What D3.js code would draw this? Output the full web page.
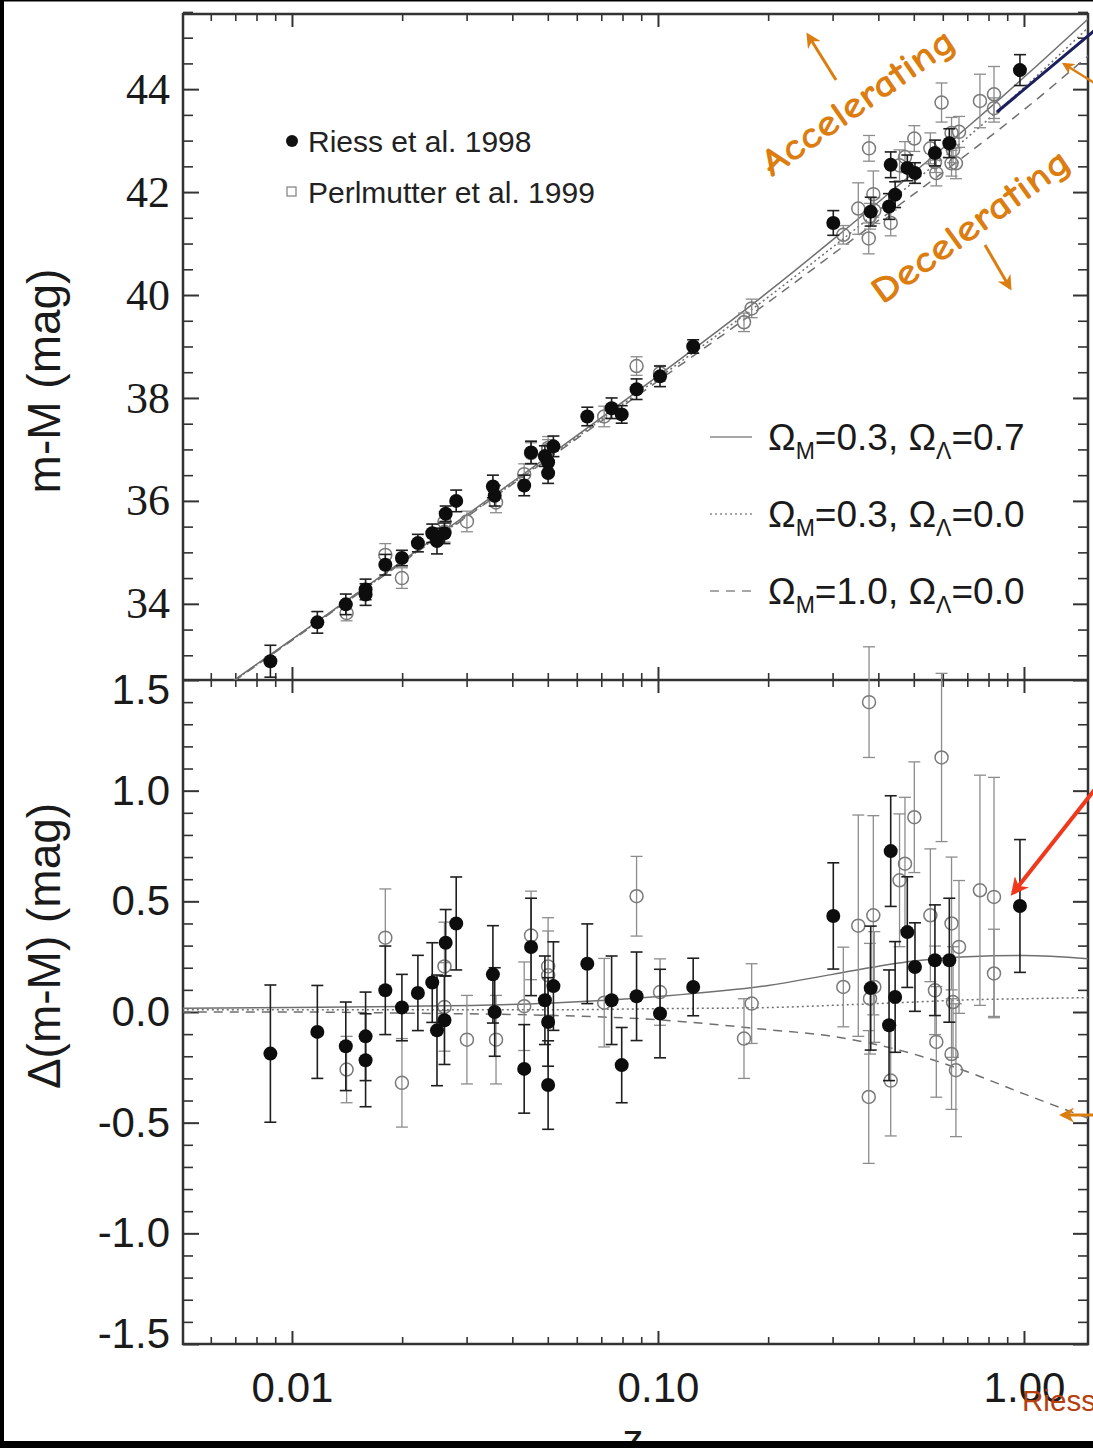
<!DOCTYPE html>
<html>
<head>
<meta charset="utf-8">
<script src="https://cdn.jsdelivr.net/npm/d3@7"></script>
<style>
    body { margin: 0; background: #fff; }
    svg { display: block; }
</style>
</head>
<body>
<svg id="chart" width="1093" height="1448"></svg>
<script>
// Riess et al. 1998 (filled): redshift, distance modulus, residual, error
let riessZ = [0.00873, 0.01173, 0.01403, 0.01589, 0.01589, 0.01799, 0.01997, 0.02208, 0.02417, 0.0263,
    0.0281, 0.0249, 0.0261, 0.0354, 0.0358, 0.0431, 0.0450, 0.0491, 0.0501, 0.0501,
    0.0518, 0.0641, 0.0747, 0.0796, 0.0874, 0.1013, 0.1248,
    0.3013, 0.4324, 0.4800, 0.5037, 0.3813, 0.4446, 0.4279, 0.5711, 0.6252, 0.975];
let riessMM = [32.885, 33.64, 33.99, 34.28, 34.18, 34.76, 34.89, 35.18, 35.37, 35.75,
    36.00, 35.22, 35.37, 36.28, 36.10, 36.30, 36.94, 36.87, 36.75, 36.54,
    37.06, 37.64, 37.80, 37.68, 38.17, 38.42, 39.00,
    41.40, 42.53, 42.47, 42.37, 41.62, 41.95, 41.72, 42.76, 42.95, 44.37];
let riessDM = [-0.188, -0.09, -0.155, -0.11, -0.218, 0.098, 0.02, 0.086, 0.133, 0.313,
    0.40, -0.083, -0.037, 0.17, 0.0, -0.257, 0.294, 0.053, -0.045, -0.33,
    0.117, 0.218, 0.053, -0.24, 0.071, -0.007, 0.113,
    0.434, 0.727, 0.361, 0.203, 0.108, 0.068, -0.06, 0.234, 0.234, 0.479];
let riessErr = [0.31, 0.21, 0.2, 0.2, 0.21, 0.2, 0.15, 0.17, 0.18, 0.15,
    0.21, 0.25, 0.2, 0.22, 0.2, 0.2, 0.22, 0.2, 0.2, 0.2,
    0.2, 0.18, 0.2, 0.17, 0.2, 0.2, 0.13,
    0.24, 0.25, 0.25, 0.2, 0.28, 0.25, 0.25, 0.25, 0.28, 0.3];

// Perlmutter et al. 1999 (open)
let perlZ = [0.01799, 0.0141, 0.01997, 0.0261, 0.0261, 0.03006, 0.0361, 0.045, 0.0431, 0.0501,
    0.0501, 0.0713, 0.0874, 0.1013, 0.1718, 0.1803,
    0.5016, 0.3209, 0.3526, 0.3876, 0.473, 0.4571, 0.5549, 0.634, 0.6645, 0.758,
    0.8281, 0.8281, 0.5711, 0.3796, 0.4324, 0.3766, 0.5761, 0.634, 0.6517, 0.5954,
    0.3773, 0.64, 0.39];
let perlMM = [34.95, 33.82, 34.50, 35.59, 35.40, 35.60, 35.97, 36.93, 36.52, 37.03,
    36.99, 37.64, 38.62, 38.48, 39.47, 39.74,
    43.04, 41.17, 41.68, 41.96, 42.68, 42.52, 42.85, 43.15, 43.17, 43.77,
    43.90, 43.63, 42.58, 41.53, 41.40, 41.10, 42.37, 42.56, 42.56, 43.74,
    42.85, 42.82, 41.64];
let perlDM = [0.336, -0.26, -0.32, 0.206, 0.023, -0.125, -0.125, 0.346, 0.026, 0.206,
    0.166, 0.042, 0.523, 0.09, -0.12, 0.038,
    0.88, 0.113, 0.39, 0.437, 0.67, 0.595, 0.437, 0.40, 0.294, 0.55,
    0.52, 0.174, 0.098, 0.06, -0.31, -0.384, -0.135, -0.19, -0.263, 1.15,
    1.40, 0.045, 0.113];
let perlErr = [0.22, 0.15, 0.2, 0.2, 0.2, 0.2, 0.2, 0.2, 0.2, 0.22,
    0.2, 0.2, 0.18, 0.15, 0.18, 0.18,
    0.25, 0.18, 0.5, 0.45, 0.3, 0.3, 0.3, 0.3, 0.3, 0.52,
    0.54, 0.2, 0.2, 0.25, 0.25, 0.3, 0.25, 0.25, 0.3, 0.38,
    0.25, 0.25, 0.25];

// cosmological model curves
let modelZ = [0.005, 0.01, 0.02, 0.05, 0.1, 0.2, 0.3, 0.5, 0.7, 1.0, 1.5];
let topSolid = [31.80, 33.31, 34.83, 36.86, 38.43, 40.06, 41.07, 42.38, 43.26, 44.23, 45.37];
let topDotted = [31.79, 33.30, 34.81, 36.83, 38.38, 39.96, 40.93, 42.20, 43.06, 44.03, 45.20];
let topDashed = [31.78, 33.29, 34.80, 36.81, 38.33, 39.86, 40.79, 41.96, 42.74, 43.60, 44.65];
let botSolid = [0.017, 0.02, 0.025, 0.04, 0.07, 0.12, 0.17, 0.23, 0.25, 0.255, 0.24];
let botDotted = [0.01, 0.01, 0.01, 0.01, 0.015, 0.02, 0.03, 0.045, 0.055, 0.06, 0.065];
let botDashed = [0, 0, -0.005, -0.015, -0.035, -0.08, -0.11, -0.19, -0.27, -0.37, -0.48];

let xMajor = [0.01, 0.1, 1];
let xMinor = [0.006, 0.007, 0.008, 0.009, 0.02, 0.03, 0.04, 0.05, 0.06, 0.07, 0.08, 0.09,
    0.2, 0.3, 0.4, 0.5, 0.6, 0.7, 0.8, 0.9];
let topMajor = [34, 36, 38, 40, 42, 44];
let botMajor = [-1.5, -1.0, -0.5, 0.0, 0.5, 1.0, 1.5];

let legendModels = [
    {m: "0.3", l: "0.7", dash: null},
    {m: "0.3", l: "0.0", dash: "2,3"},
    {m: "1.0", l: "0.0", dash: "9,7"}
];

let svg = d3.select("#chart");
let pLeft = 183, pRight = 1088, pTop = 14, pMid = 680, pBottom = 1344;
let orange = "#dc7d10";

let x = d3.scaleLog().domain([0.005038, 1.496]).range([pLeft, pRight]);
let yTop = d3.scaleLinear().domain([32.52, 45.46]).range([pMid, pTop]);
let yBot = d3.scaleLinear().domain([-1.5, 1.5]).range([pBottom, pMid]);

svg.append("defs").call(function (defs) {
    defs.append("clipPath").attr("id", "clipTop")
        .append("rect").attr("x", pLeft).attr("y", pTop)
        .attr("width", pRight - pLeft).attr("height", pMid - pTop);
    defs.append("clipPath").attr("id", "clipBot")
        .append("rect").attr("x", pLeft).attr("y", pMid)
        .attr("width", pRight - pLeft).attr("height", pBottom - pMid);
    ["orangeHead", "redHead"].forEach(function (id, i) {
        defs.append("marker").attr("id", id)
            .attr("viewBox", "0 0 10 10").attr("refX", 8).attr("refY", 5)
            .attr("markerWidth", i ? 4.5 : 5).attr("markerHeight", i ? 4.5 : 5)
            .attr("orient", "auto")
            .append("path").attr("d", "M0,0 L10,5 L0,10 L3,5 Z")
            .attr("fill", i ? "#f0381c" : orange);
    });
});

// axes: ticks point into each panel
function styleAxis(g, width) {
    g.select(".domain").remove();
    g.selectAll(".tick line").attr("stroke", "#333").attr("stroke-width", width);
    return g;
}

function xAxes(yPos, maker) {
    styleAxis(svg.append("g").attr("transform", "translate(0," + yPos + ")")
        .call(maker(x).tickValues(xMajor).tickSizeInner(13).tickSizeOuter(0).tickFormat("")), 2);
    styleAxis(svg.append("g").attr("transform", "translate(0," + yPos + ")")
        .call(maker(x).tickValues(xMinor).tickSizeInner(7).tickSizeOuter(0).tickFormat("")), 1.6);
}
xAxes(pTop, d3.axisBottom);
xAxes(pMid, d3.axisTop);
xAxes(pMid, d3.axisBottom);

let bottomAxis = svg.append("g").attr("transform", "translate(0," + pBottom + ")")
    .call(d3.axisBottom(x).tickValues(xMajor).tickSizeInner(-13).tickSizeOuter(0)
        .tickPadding(28).tickFormat(d3.format(".2f")));
styleAxis(bottomAxis, 2);
bottomAxis.selectAll("text")
    .attr("font-family", "Liberation Sans, Arial, sans-serif")
    .attr("font-size", 42).attr("fill", "#1a1a1a");
styleAxis(svg.append("g").attr("transform", "translate(0," + pBottom + ")")
    .call(d3.axisTop(x).tickValues(xMinor).tickSizeInner(7).tickSizeOuter(0).tickFormat("")), 1.6);

function yAxes(scale, majors, minors, labelFormat, font, size) {
    let major = svg.append("g").attr("transform", "translate(" + pLeft + ",0)")
        .call(d3.axisLeft(scale).tickValues(majors).tickSizeInner(-16).tickSizeOuter(0)
            .tickPadding(13).tickFormat(labelFormat));
    styleAxis(major, 2);
    major.selectAll("text").attr("font-family", font).attr("font-size", size).attr("fill", "#1a1a1a");
    styleAxis(svg.append("g").attr("transform", "translate(" + pLeft + ",0)")
        .call(d3.axisLeft(scale).tickValues(minors).tickSizeInner(-10).tickSizeOuter(0).tickFormat("")), 1.6);
    styleAxis(svg.append("g").attr("transform", "translate(" + pRight + ",0)")
        .call(d3.axisRight(scale).tickValues(majors).tickSizeInner(-15).tickSizeOuter(0).tickFormat("")), 2);
    styleAxis(svg.append("g").attr("transform", "translate(" + pRight + ",0)")
        .call(d3.axisRight(scale).tickValues(minors).tickSizeInner(-10).tickSizeOuter(0).tickFormat("")), 1.6);
    return major;
}

let topMinor = d3.range(33, 45.6, 0.5).filter(function (v) { return topMajor.indexOf(v) < 0; });
yAxes(yTop, topMajor, topMinor, function (d) { return d; },
    "Liberation Serif, Times New Roman, serif", 44);

let botMinor = d3.range(-14, 15).map(function (v) { return v / 10; })
    .filter(function (v) { return Math.abs(v * 2 - Math.round(v * 2)) > 0.01; });
let botLabels = yAxes(yBot, botMajor, botMinor, function (d) { return d.toFixed(1); },
    "Liberation Sans, Arial, sans-serif", 42);
botLabels.selectAll(".tick text")
    .attr("dy", function (d) { return d === 1.5 ? "0.55em" : d === -1.5 ? "0.08em" : "0.32em"; });

// frame
svg.append("g").attr("fill", "none").attr("stroke", "#333").attr("stroke-width", 2.5)
    .call(function (g) {
        g.append("rect").attr("x", pLeft).attr("y", pTop)
            .attr("width", pRight - pLeft).attr("height", pBottom - pTop);
        g.append("line").attr("x1", pLeft).attr("x2", pRight).attr("y1", pMid).attr("y2", pMid);
    });

// model curves
function modelLine(scale) {
    return d3.line()
        .x(function (d) { return x(d[0]); })
        .y(function (d) { return scale(d[1]); })
        .curve(d3.curveMonotoneX);
}
[
    [topSolid, yTop, "clipTop", null], [topDotted, yTop, "clipTop", "2,3"], [topDashed, yTop, "clipTop", "9,7"],
    [botSolid, yBot, "clipBot", null], [botDotted, yBot, "clipBot", "2,3"], [botDashed, yBot, "clipBot", "9,7"]
].forEach(function (m) {
    svg.append("path")
        .datum(d3.zip(modelZ, m[0]))
        .attr("clip-path", "url(#" + m[2] + ")")
        .attr("d", modelLine(m[1]))
        .attr("fill", "none")
        .attr("stroke", "#6f6f6f")
        .attr("stroke-width", 1.5)
        .attr("stroke-dasharray", m[3]);
});

// data points
let riess = riessZ.map(function (z, i) {
    return {z: z, mm: riessMM[i], dm: riessDM[i], err: riessErr[i]};
});
let perl = perlZ.map(function (z, i) {
    return {z: z, mm: perlMM[i], dm: perlDM[i], err: perlErr[i]};
});

function errorBars(data, scale, key, color, width) {
    let g = svg.append("g").attr("stroke", color).attr("stroke-width", width);
    data.forEach(function (d) {
        let cx = x(d.z), y1 = scale(d[key] - d.err), y2 = scale(d[key] + d.err);
        g.append("line").attr("x1", cx).attr("x2", cx).attr("y1", y1).attr("y2", y2);
        g.append("line").attr("x1", cx - 6).attr("x2", cx + 6).attr("y1", y1).attr("y2", y1);
        g.append("line").attr("x1", cx - 6).attr("x2", cx + 6).attr("y1", y2).attr("y2", y2);
    });
}

[[yTop, "mm"], [yBot, "dm"]].forEach(function (p) {
    errorBars(perl, p[0], p[1], "#8c8c8c", 1.3);
    svg.append("g").selectAll("circle")
        .data(perl)
        .enter()
        .append("circle")
        .attr("cx", function (d) { return x(d.z); })
        .attr("cy", function (d) { return p[0](d[p[1]]); })
        .attr("r", 6.5)
        .attr("fill", "none")
        .attr("stroke", "#7a7a7a")
        .attr("stroke-width", 1.5);
    errorBars(riess, p[0], p[1], "#1e1e1e", 1.6);
    svg.append("g").selectAll("circle")
        .data(riess)
        .enter()
        .append("circle")
        .attr("cx", function (d) { return x(d.z); })
        .attr("cy", function (d) { return p[0](d[p[1]]); })
        .attr("r", 7)
        .attr("fill", "#0d0d0d");
});

// legends
let sans = "Liberation Sans, Arial, sans-serif";
svg.append("circle").attr("cx", 292).attr("cy", 141).attr("r", 6).attr("fill", "#111");
svg.append("rect").attr("x", 287).attr("y", 187).attr("width", 9).attr("height", 9)
    .attr("fill", "none").attr("stroke", "#888").attr("stroke-width", 1.3);
svg.append("text").attr("x", 308).attr("y", 152).attr("font-family", sans)
    .attr("font-size", 30).attr("fill", "#222").text("Riess et al. 1998");
svg.append("text").attr("x", 308).attr("y", 203).attr("font-family", sans)
    .attr("font-size", 30).attr("fill", "#222").text("Perlmutter et al. 1999");

legendModels.forEach(function (m, i) {
    let ly = 437 + i * 77;
    svg.append("line").attr("x1", 710).attr("x2", 752).attr("y1", ly).attr("y2", ly)
        .attr("stroke", "#8a8a8a").attr("stroke-width", 1.6).attr("stroke-dasharray", m.dash);
    let t = svg.append("text").attr("x", 768).attr("y", ly + 13)
        .attr("font-family", sans).attr("font-size", 37).attr("fill", "#1a1a1a");
    t.append("tspan").text("\u03A9");
    t.append("tspan").attr("dy", 9).attr("font-size", 23).text("M");
    t.append("tspan").attr("dy", -9).text("=" + m.m + ", \u03A9");
    t.append("tspan").attr("dy", 9).attr("font-size", 23).text("\u039B");
    t.append("tspan").attr("dy", -9).text("=" + m.l);
});

// axis titles
svg.append("text").attr("transform", "translate(60,381) rotate(-90)")
    .attr("text-anchor", "middle").attr("font-family", sans).attr("font-size", 46)
    .attr("fill", "#1a1a1a").text("m-M (mag)");
svg.append("text").attr("transform", "translate(60,946) rotate(-90)")
    .attr("text-anchor", "middle").attr("font-family", sans).attr("font-size", 46)
    .attr("fill", "#1a1a1a").text("\u0394(m-M) (mag)");
svg.append("text").attr("x", 633).attr("y", 1454).attr("text-anchor", "middle")
    .attr("font-family", sans).attr("font-size", 42).attr("fill", "#1a1a1a").text("z");

// annotations drawn over the figure
let hand = "Comic Sans MS, Comic Neue, DejaVu Sans, sans-serif";
svg.append("text").attr("transform", "translate(865,112) rotate(-35)")
    .attr("text-anchor", "middle").attr("font-family", hand).attr("font-weight", "bold")
    .attr("font-size", 38).attr("fill", orange)
    .attr("textLength", 228).attr("lengthAdjust", "spacingAndGlyphs").text("Accelerating");
svg.append("text").attr("transform", "translate(978,236) rotate(-36)")
    .attr("text-anchor", "middle").attr("font-family", hand).attr("font-weight", "bold")
    .attr("font-size", 38).attr("fill", orange)
    .attr("textLength", 236).attr("lengthAdjust", "spacingAndGlyphs").text("Decelerating");

let arrows = [
    [836, 80, 808, 35, orange, 3, "orangeHead"],
    [985, 245, 1010, 288, orange, 3, "orangeHead"],
    [1096, 84, 1064, 64, orange, 2.5, "orangeHead"],
    [1096, 1115, 1062, 1115, orange, 3, "orangeHead"],
    [1096, 788, 1013, 893, "#f0381c", 4, "redHead"]
];
arrows.forEach(function (a) {
    svg.append("line").attr("x1", a[0]).attr("y1", a[1]).attr("x2", a[2]).attr("y2", a[3])
        .attr("stroke", a[4]).attr("stroke-width", a[5])
        .attr("marker-end", "url(#" + a[6] + ")");
});
svg.append("line").attr("x1", 997).attr("y1", 112).attr("x2", 1095).attr("y2", 30)
    .attr("stroke", "#1c1f5e").attr("stroke-width", 3);
svg.append("text").attr("x", 1022).attr("y", 1411).attr("font-family", sans)
    .attr("font-size", 30).attr("fill", "#b6400f")
    .attr("textLength", 74).attr("lengthAdjust", "spacingAndGlyphs").text("Riess");

// black border of the scanned picture
svg.append("rect").attr("x", 0).attr("y", 0).attr("width", 4).attr("height", 1448).attr("fill", "#000");
svg.append("rect").attr("x", 0).attr("y", 0).attr("width", 1093).attr("height", 1.5).attr("fill", "#000");
svg.append("rect").attr("x", 0).attr("y", 1441).attr("width", 1093).attr("height", 7).attr("fill", "#000");
</script>
</body>
</html>
